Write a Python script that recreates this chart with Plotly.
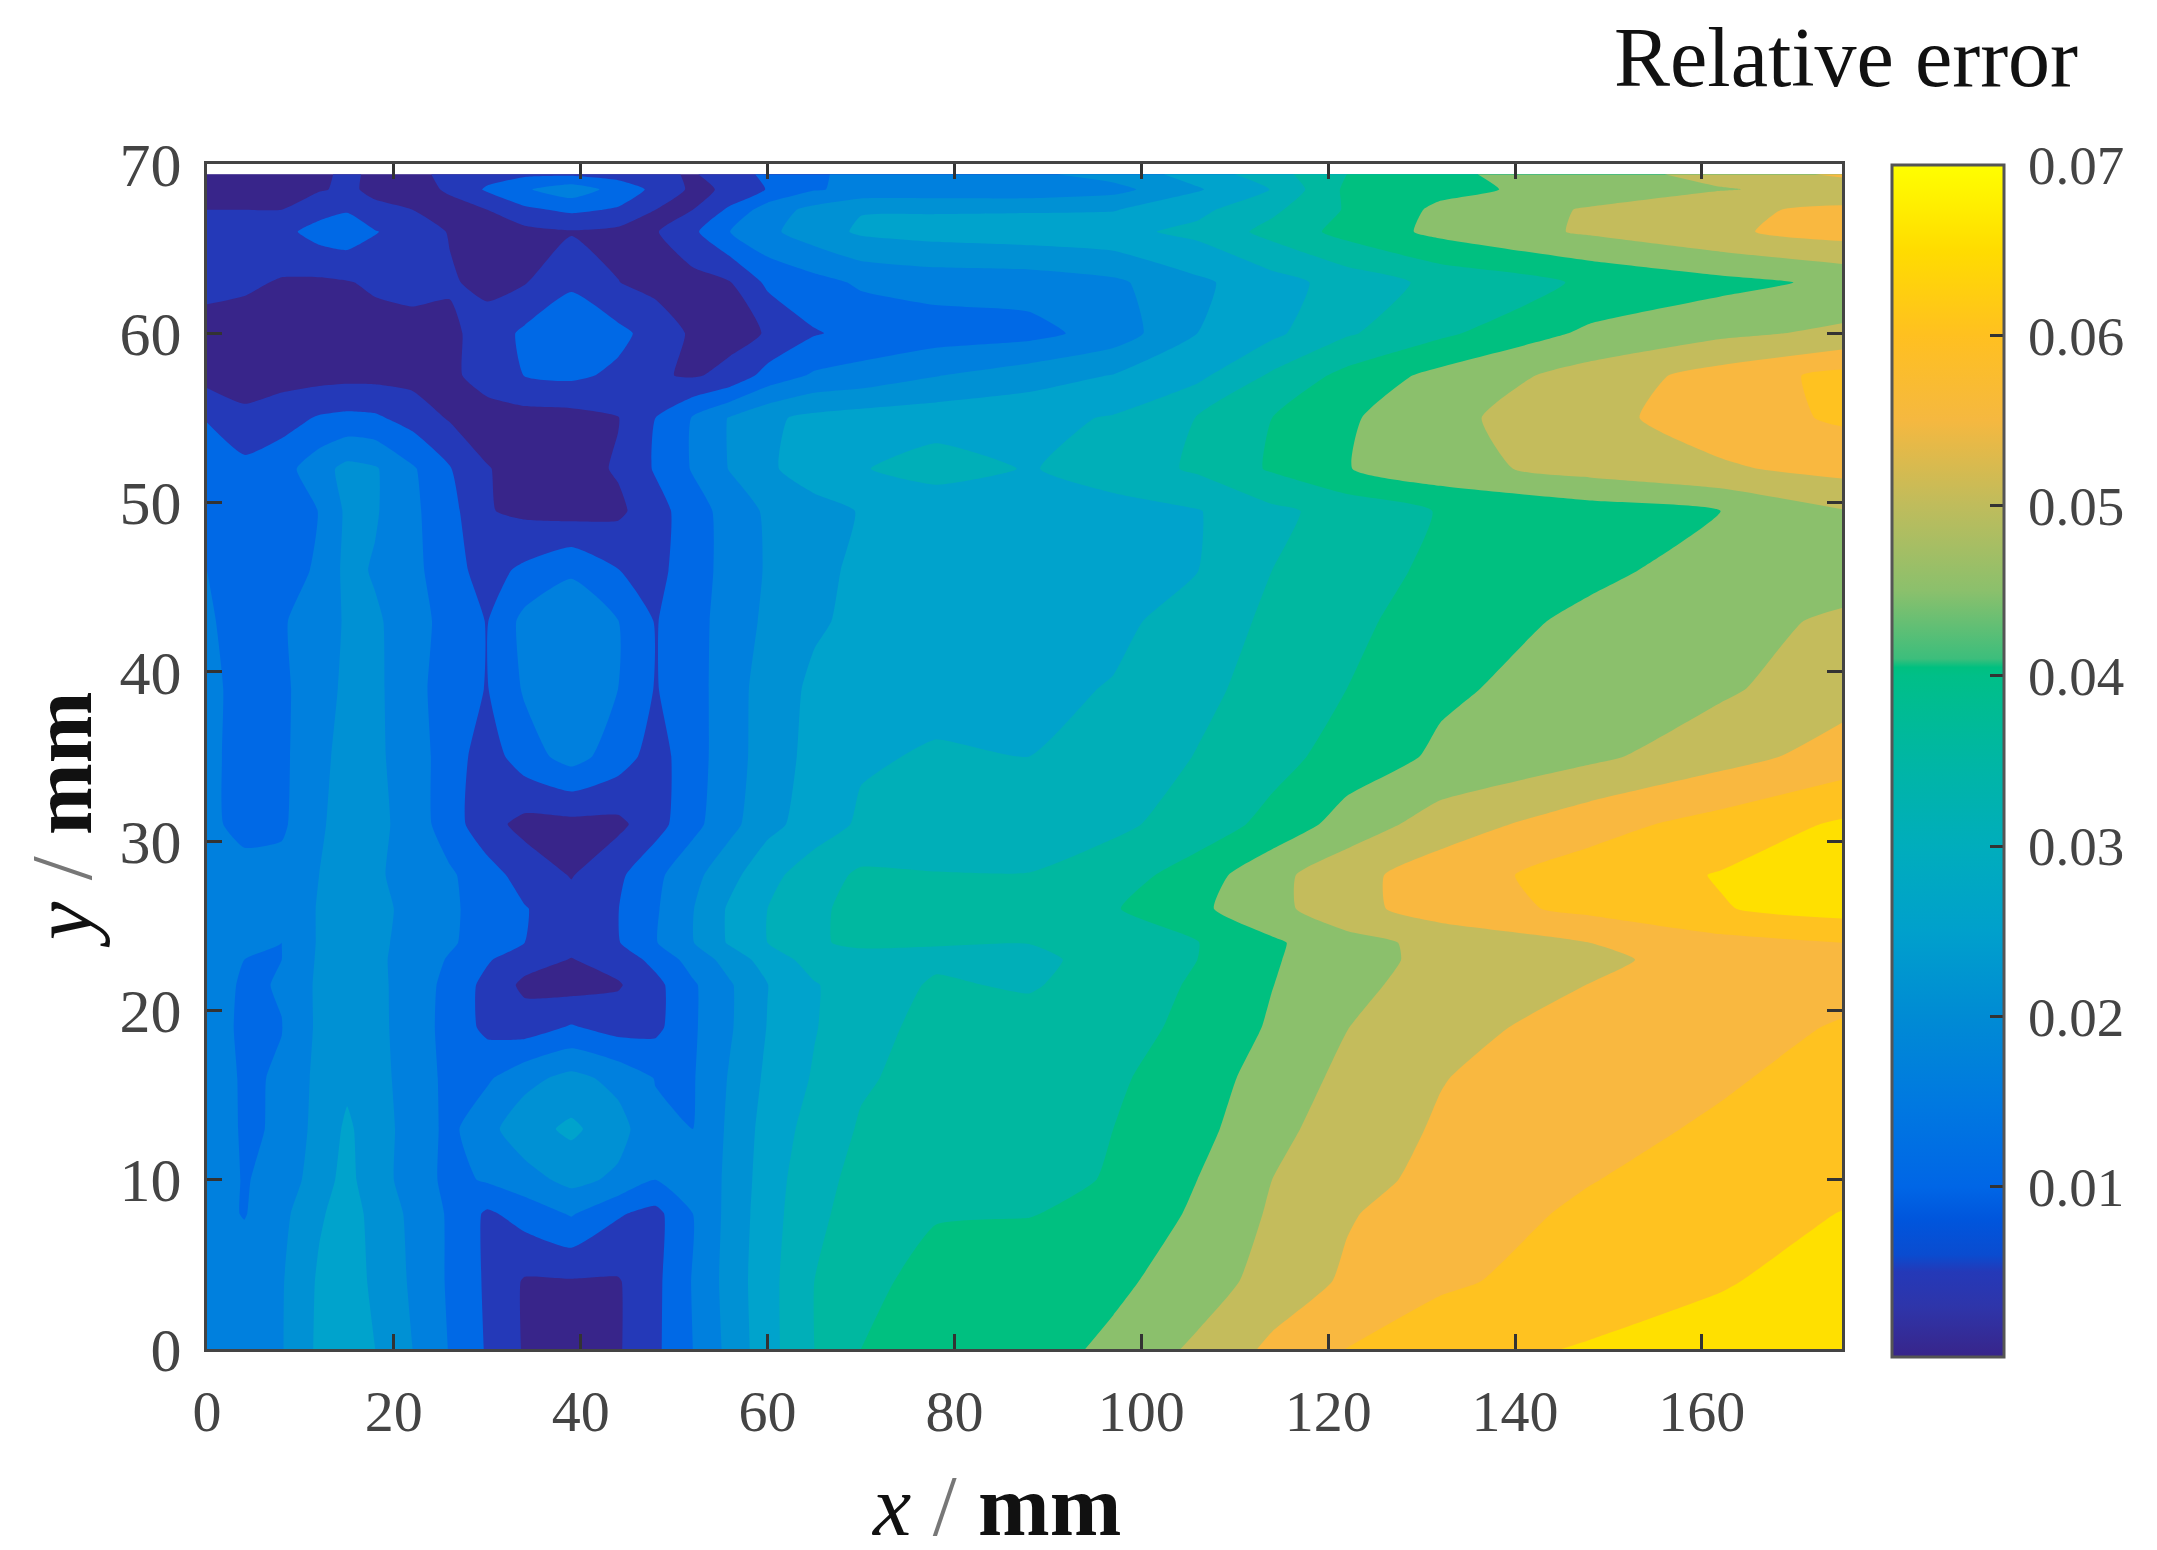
import numpy as np
import plotly.graph_objects as go

# Values, z is relative error x 1000
x_mm = [0, 4, 8, 12, 15, 18, 22, 26, 30, 34, 39, 44, 48, 52, 56, 60, 65, 70, 78, 88, 97, 106, 114, 122, 132, 148, 162, 175]
y_mm = [0, 4, 8, 10, 13, 16, 19, 21.5, 23, 24, 26, 28, 31, 35, 39, 43, 46, 49.5, 52, 55, 57.5, 60, 63, 66, 67.3, 68.5, 69.4]

y00 = [17, 18, 19.7, 26, 27.5, 25, 20, 14.7, 9.5, 4.5, 3, 4.5, 9, 15, 21.5, 28.2, 35, 40, 41.5, 43, 46, 51, 56, 60.1, 63.3, 65.4, 67, 69]
y04 = [17, 18, 19.6, 25.7, 26.5, 24.4, 19.2, 14.3, 9.2, 4.5, 4.6, 4.6, 8.8, 15.3, 22, 28.3, 35, 38.8, 41.5, 43, 44, 47.3, 52.1, 55.7, 59.1, 62.4, 64.6, 67]
y08 = [17, 14.7, 18.6, 24.4, 27, 23.6, 18.8, 14.3, 9.2, 12, 15.5, 10.5, 8.5, 15, 21.6, 27.9, 33.9, 37, 39.7, 39.8, 41.3, 45.8, 50.6, 54.6, 57.4, 60.9, 63.3, 65.1]
y10 = [17.5, 14.7, 16.5, 23, 26.5, 22, 18, 13.5, 15.6, 18, 21.5, 19, 15, 15.3, 21.4, 27.5, 33.5, 36.3, 38, 38.8, 40.3, 45, 50, 53.4, 56.3, 59.8, 62.3, 64]
y13 = [18, 14.4, 15.5, 22, 25.8, 22.5, 17.8, 13.8, 18.5, 23, 26, 22, 16, 15, 21, 27, 32, 35.5, 37.5, 38.8, 40, 43.5, 48.5, 52.5, 55.5, 58.2, 60.8, 63]
y16 = [18, 14.3, 15.5, 21.5, 24, 22, 17.5, 13.8, 14.3, 18.5, 21.5, 18.5, 14.8, 14.6, 20.5, 26, 30.5, 34.4, 36.8, 37.5, 39.2, 42.8, 47, 51.3, 54.8, 58, 59.3, 62]
y19 = [17.5, 14, 14.9, 21, 23, 21.5, 17.5, 13.3, 8.7, 7.5, 10.5, 8, 8.7, 14.3, 19.5, 25.2, 29.7, 33.3, 36.5, 37, 38.1, 41.3, 45.6, 49.9, 53.3, 57, 58.6, 60.3]
y21 = [17.5, 14.3, 15.3, 21, 22.7, 21.3, 17.7, 13.5, 8.5, 3.9, 3, 4.5, 8.5, 14.3, 19.5, 24.9, 29.6, 32.8, 35.5, 34.5, 37.4, 40.6, 44.9, 48.5, 52.3, 55.1, 58, 58.9]
y23 = [17.5, 15, 15, 20.7, 22.6, 21, 18, 14.5, 10.5, 7, 4.8, 7, 11.5, 17, 22, 27.3, 32, 34, 34.3, 33.8, 36.8, 40, 44.5, 48.2, 51.3, 53.3, 58.2, 59.5]
y24 = [17, 16, 15, 20.5, 22.5, 21, 18.5, 15.7, 12.5, 10, 6.5, 9.7, 14.7, 19.8, 25.7, 30, 34.7, 35.5, 35.2, 35.1, 37.5, 39.8, 44.2, 48.3, 51.4, 55, 58.4, 60]
y26 = [17.5, 15.5, 15, 20.5, 22.5, 21, 19, 15.8, 13, 10.3, 7, 9.9, 14.4, 19.8, 25.8, 30, 33.8, 37, 37.5, 38.5, 39.6, 44, 48.5, 53.2, 57.5, 61.2, 64.7, 67]
y28 = [17, 16.5, 16.6, 20, 22, 20.5, 18.7, 15.7, 12, 8, 4.7, 9, 13.8, 18.5, 23.5, 28.4, 32.8, 35.8, 35.2, 35.1, 37.5, 42.5, 48.5, 53.2, 57.7, 62.3, 65.3, 67.5]
y31 = [16, 13.7, 14.2, 19, 23, 21.5, 17.8, 12.3, 6.8, 3.5, 3.5, 3.8, 8, 13.5, 18.5, 23.5, 27.3, 30.8, 32.2, 33, 34, 37, 41.6, 47, 52.3, 58.1, 61.9, 65.7]
y35 = [16, 13.5, 14, 18.5, 22, 21, 17.5, 12.4, 7.5, 12.7, 17, 12.5, 7.8, 13, 17.7, 22.5, 26.5, 29.4, 30.5, 30, 32, 35.2, 38.1, 42.2, 45.8, 48.9, 53.1, 57]
y39 = [16, 13.7, 14, 18, 21, 21, 17, 12, 9.8, 15.6, 17.5, 15, 9.7, 13, 17.7, 22.3, 26, 27, 28.5, 28.7, 30.3, 33.8, 36.8, 40, 44.2, 47.2, 49.2, 53]
y43 = [15.5, 13.4, 14.4, 18, 20.5, 20.7, 17.5, 12.7, 9.8, 16.5, 17.5, 15.1, 9.7, 13.2, 17.2, 21, 24.3, 26.2, 27.5, 28.5, 28.8, 32.2, 36, 38.7, 42.5, 46, 48.5, 50.7]
y46 = [15, 13, 13.5, 15.5, 21.5, 19.5, 16.5, 11.7, 8.2, 11, 14.5, 10.1, 8.5, 12.8, 16.8, 20.5, 23.7, 26, 27, 27.7, 28.2, 29.9, 35, 37.8, 41.1, 44, 46.7, 48]
y49 = [15, 12, 12.5, 15.1, 21, 20.5, 16, 11.7, 5.3, 4, 3, 4, 8, 12.8, 17, 20.8, 23, 25.3, 26.7, 27.7, 28.5, 29.7, 33.9, 36.8, 40.3, 42.7, 45, 49.7]
y52 = [12, 11.5, 13, 18, 21.5, 20.5, 15.6, 10.3, 5.2, 3.5, 3, 5.5, 10.5, 15.4, 20.3, 24.1, 27.8, 29.7, 32, 29.7, 32, 35.8, 40.6, 44.8, 48.2, 51.9, 54.3, 56.6]
y55 = [9.8, 6, 8, 10.5, 11.2, 10.8, 8, 4.5, 3, 3, 3.2, 4.8, 10, 15.4, 20.4, 24, 26.3, 27.3, 28, 28.6, 30.4, 35.2, 40, 44.3, 48.7, 53.4, 57.6, 60.7]
y57 = [3, 3, 3, 3.2, 3.5, 3.5, 3.3, 4, 7, 10.1, 11, 9, 5.5, 4.5, 6.3, 11.9, 15.7, 16.8, 19.8, 22.7, 25.2, 28.8, 35.8, 41.5, 46.5, 52, 57, 61.5]
y60 = [3, 2.8, 2.8, 2.8, 2.8, 3, 3, 4, 7, 11, 13, 11.3, 8, 4.2, 3.5, 5.3, 9.6, 11.5, 12.5, 13.3, 17.2, 25, 28.9, 34.4, 39, 46, 48.9, 51]
y63 = [6.5, 5.8, 4.6, 4.2, 4.7, 5.8, 6.8, 5.5, 3.8, 4.7, 9.3, 5.1, 3.5, 3.3, 4.8, 11, 13.3, 15.7, 17, 17.3, 19, 24, 28, 32, 36.4, 40.7, 43.5, 46]
y66 = [7, 7, 8.5, 12, 13, 10.3, 7.5, 4.7, 3.5, 3.5, 4.6, 3.7, 4.6, 9, 15, 18.9, 22.6, 25.8, 27, 27.8, 28.6, 31.3, 36.6, 41.7, 46.3, 50.7, 54.2, 57]
y67 = [5, 5, 5, 8, 9.5, 6, 5, 3.5, 5, 9, 11, 9.5, 5, 5, 11, 17.5, 21.5, 24.7, 24.5, 24.5, 24.7, 28.7, 34, 40.5, 46, 50.5, 54, 56]
y68 = [3.5, 3.3, 3.5, 4.6, 5.8, 4, 3.3, 5.6, 10.7, 14.4, 18, 13, 8.8, 4, 5.7, 10.3, 14.6, 16.2, 16.5, 16.5, 18.3, 24.5, 30.2, 41, 43.7, 47, 49.7, 51.5]
y69 = [4, 4, 4, 4.5, 5.5, 4.5, 4, 6, 8, 9, 9, 8, 6, 4.5, 8, 11, 14, 17, 18, 19, 22, 27, 33, 40, 44, 48, 51.5, 56]

z_rows = [y00, y04, y08, y10, y13, y16, y19, y21, y23, y24, y26, y28, y31, y35, y39, y43, y46, y49, y52, y55, y57, y60, y63, y66, y67, y68, y69]

x_ticks = [0, 20, 40, 60, 80, 100, 120, 140, 160]
y_ticks = [0, 10, 20, 30, 40, 50, 60, 70]
bar_ticks = [0.01, 0.02, 0.03, 0.04, 0.05, 0.06, 0.07]
bar_labels = ['\u20090.01', '\u20090.02', '\u20090.03', '\u20090.04', '\u20090.05', '\u20090.06', '\u20090.07']

# one colour per 0.005 band
band_colors = ['#38258A', '#2439B8', '#0069E6', '#0080DE', '#0091D4', '#00A3CC', '#00AFB8',
               '#00B8A0', '#00C080', '#8BC06C', '#C4BC5C', '#F9B840', '#FFC220', '#FFE000']

# colour bar is a smooth ramp, not the bands
bar_stops = [0, 0.003, 0.005, 0.006, 0.008, 0.01, 0.015, 0.02, 0.025, 0.03, 0.035, 0.04, 0.0405, 0.041, 0.045, 0.05, 0.055, 0.06, 0.065, 0.07]
bar_colors = ['#38258A', '#2E35AA', '#2439B8', '#0A4CD0', '#0055DC', '#0066E6', '#0079E0', '#008BD4', '#00A0CC', '#00ADBC',
              '#00B6A4', '#00BF88', '#00C080', '#3CBE7C', '#8BC06C', '#BFBC5C', '#F5B840', '#FFC020', '#FFDC00', '#FFFF00']

W, H = 2157, 1550
FONT = 'Liberation Serif'
PAD = 8  # the page body adds this much on the left and top

z = np.array(z_rows) / 1000

band_scale = []
n = len(band_colors)
for i, c in enumerate(band_colors):
    band_scale.append([i / n, c])
    band_scale.append([(i + 1) / n, c])

ramp = [[s / bar_stops[-1], c] for s, c in zip(bar_stops, bar_colors)]

fig = go.Figure()
fig.add_trace(go.Contour(
    x=x_mm, y=y_mm, z=z,
    zmin=0, zmax=0.07,
    autocontour=False,
    contours=dict(start=0, end=0.07, size=0.005, coloring='fill', showlines=False),
    line=dict(width=0, smoothing=0.5),
    colorscale=band_scale,
    showscale=False,
))

# empty trace, only here to carry the colour bar
fig.add_trace(go.Scatter(
    x=[None, None], y=[None, None], mode='markers', showlegend=False,
    marker=dict(
        color=[0, 0.07], cmin=0, cmax=0.07, colorscale=ramp, showscale=True,
        colorbar=dict(
            x=(1892 - PAD) / W, xanchor='left', xpad=0,
            y=1 - (1357 - PAD) / H, yanchor='bottom', ypad=0,
            lenmode='pixels', len=1192, thicknessmode='pixels', thickness=112,
            outlinecolor='#555555', outlinewidth=3,
            ticks='inside', ticklen=15, tickwidth=3, tickcolor='#333333',
            tickvals=bar_ticks, ticktext=bar_labels,
            tickfont=dict(family=FONT, size=55, color='#444444'),
        ),
    ),
))

axis_style = dict(
    showgrid=False, zeroline=False, showline=True, linecolor='#444444', linewidth=3,
    mirror='ticks', ticks='inside', ticklen=15, tickwidth=3, tickcolor='#333333',
)

fig.update_layout(
    width=W, height=H,
    margin=dict(l=0, r=0, t=0, b=0, autoexpand=False),
    paper_bgcolor='white', plot_bgcolor='white',
    showlegend=False,
    xaxis=dict(range=[0, 175], tickvals=x_ticks, domain=[(207 - PAD) / W, (1842 - PAD) / W], ticklabelstandoff=9,
               tickfont=dict(family=FONT, size=58, color='#444444'), **axis_style),
    yaxis=dict(range=[0, 70], tickvals=y_ticks, domain=[1 - (1349 - PAD) / H, 1 - (164 - PAD) / H], ticklabelstandoff=10,
               tickfont=dict(family=FONT, size=62, color='#444444'), **axis_style),
    annotations=[
        dict(xref='paper', yref='paper', x=(996 - PAD) / W, y=1 - (1506 - PAD) / H, xanchor='center', yanchor='middle', showarrow=False,
             text='<i>x</i> <span style="color:#777777">/</span> <b>mm</b>',
             font=dict(family=FONT, size=86, color='#111111')),
        dict(xref='paper', yref='paper', x=(62 - PAD) / W, y=1 - (820 - PAD) / H, xanchor='center', yanchor='middle', showarrow=False,
             textangle=-90,
             text='<i>y</i> <span style="color:#777777">/</span> <b>mm</b>',
             font=dict(family=FONT, size=86, color='#111111')),
        dict(xref='paper', yref='paper', x=(1846 - PAD) / W, y=1 - (58 - PAD) / H, xanchor='center', yanchor='middle', showarrow=False,
             text='Relative error',
             font=dict(family=FONT, size=84, color='#111111')),
    ],
)

fig.write_html("out.html")
